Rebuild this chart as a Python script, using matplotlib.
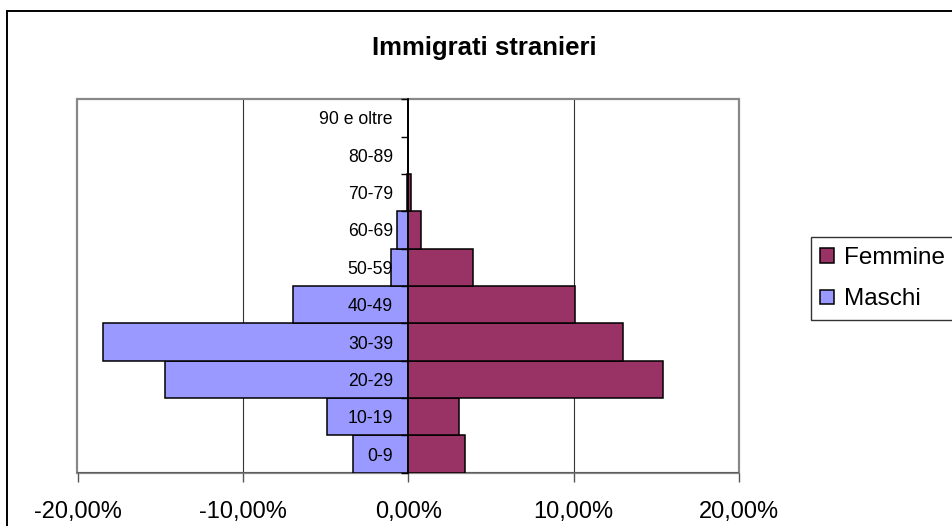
import matplotlib
matplotlib.use("Agg")
import matplotlib.pyplot as plt
from matplotlib.patches import Rectangle
from matplotlib.ticker import FuncFormatter, FixedLocator
import numpy as np

plt.rcParams['font.family'] = ['Liberation Sans', 'DejaVu Sans']

# Age classes (bottom to top) and shares of foreign immigrants, in percent
age_classes = ['0-9', '10-19', '20-29', '30-39', '40-49',
               '50-59', '60-69', '70-79', '80-89', '90 e oltre']
maschi = [3.33, 4.93, 14.7, 18.48, 6.95, 1.05, 0.66, 0.05, 0.0, 0.0]
femmine = [3.43, 3.07, 15.4, 12.98, 10.08, 3.91, 0.77, 0.15, 0.0, 0.0]
x_ticks = [-20, -10, 0, 10, 20]

COL_F = '#993366'
COL_M = '#9999FF'

fig = plt.figure(figsize=(9.53, 5.26), dpi=100)
W, H = 953, 526

ax = fig.add_axes([77.5 / W, 1 - 472.7 / H, (739 - 77.5) / W, (472.7 - 99.3) / H])
ax.set_axisbelow(False)

y = np.arange(len(age_classes))
ax.barh(y, femmine, height=1.0, color=COL_F, edgecolor='black', linewidth=1.1,
        label='Femmine', zorder=2)
ax.barh(y, [-v for v in maschi], height=1.0, color=COL_M, edgecolor='black',
        linewidth=1.1, label='Maschi', zorder=2)

ax.set_xlim(x_ticks[0], x_ticks[-1])
ax.set_ylim(-0.5, len(age_classes) - 0.5)

# vertical gridlines inside the plot area
for xv in x_ticks[1:-1]:
    if xv != 0:
        ax.axvline(xv, color='#333333', linewidth=0.8, zorder=0.5)

# plot-area frame
for s in ['top', 'right', 'bottom']:
    ax.spines[s].set_visible(False)
ax.add_patch(Rectangle((0, 0), 1, 1, transform=ax.transAxes, fill=False,
                       edgecolor='#888888', linewidth=1.6, zorder=0.6, clip_on=False))
ax.axhline(-0.5, color='#555555', linewidth=1.2, zorder=0.7)

# category axis sits at zero
ax.spines['left'].set_position(('data', 0))
ax.spines['left'].set_color('black')
ax.spines['left'].set_linewidth(1.3)
ax.spines['left'].set_zorder(3)

ax.yaxis.set_major_locator(FixedLocator(np.arange(-0.5, len(age_classes), 1.0)))
ax.yaxis.set_major_formatter(FuncFormatter(lambda v, p: ''))
ax.set_yticks(y, minor=True)
ax.set_yticklabels(age_classes, minor=True)
ax.tick_params(axis='y', which='major', direction='out', length=5, width=1.0, color='black')
ax.tick_params(axis='y', which='minor', length=0, pad=11, labelsize=12.7)

ax.set_xticks(x_ticks)
ax.xaxis.set_major_formatter(FuncFormatter(lambda v, p: f"{v:.2f}%".replace('.', ',')))
ax.tick_params(axis='x', direction='out', length=6.3, width=1.0, color='#555555',
               labelsize=17, pad=14)

fig.text(484 / W, 1 - 48 / H, 'Immigrati stranieri', ha='center', va='center',
         fontsize=18.5, fontweight='bold')

leg = fig.legend(loc='upper left', bbox_to_anchor=(810.7 / W, 1 - 237.3 / H),
                 fontsize=17.5, frameon=True, fancybox=False, shadow=False,
                 handlelength=0.55, handleheight=0.55, handletextpad=0.4,
                 labelspacing=0.8, borderpad=0.4, borderaxespad=0)
leg.get_frame().set_edgecolor('black')
leg.get_frame().set_linewidth(1.0)

# outer chart border
fig.patches.append(Rectangle((7.3 / W, -0.01), 1.05, 1 - 11 / H + 0.01,
                             transform=fig.transFigure, fill=False,
                             edgecolor='black', linewidth=1.4))

fig.savefig('out.png', dpi=100)
